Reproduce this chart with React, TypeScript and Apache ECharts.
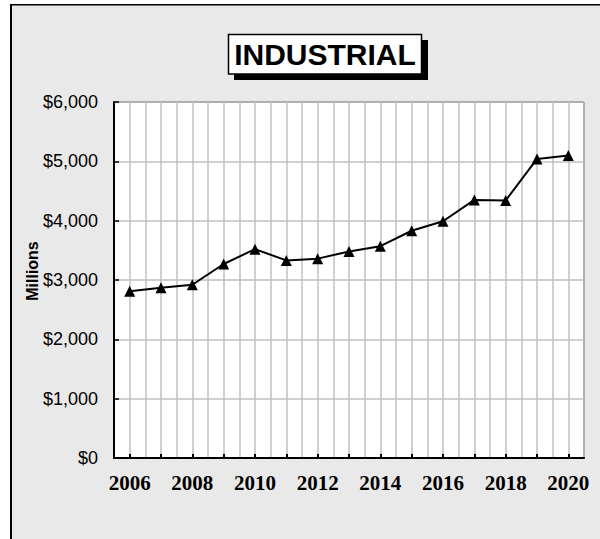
import React, { useEffect, useRef } from "react";
import * as echarts from "echarts";

const years = [2006, 2007, 2008, 2009, 2010, 2011, 2012, 2013, 2014, 2015, 2016, 2017, 2018, 2019, 2020];
const values = [2810, 2870, 2920, 3270, 3520, 3330, 3360, 3480, 3570, 3830, 3990, 4350, 4340, 5040, 5100];
const yTicks = { min: 0, max: 6000, interval: 1000 };
const titleText = "INDUSTRIAL";
const yName = "Millions";

export default function App() {
  const ref = useRef<HTMLDivElement>(null);
  useEffect(() => {
    if (!ref.current) return;
    const chart = echarts.init(ref.current, null, { renderer: "svg" });
    const gridColor = "#c0c0c0";
    chart.setOption({
      animation: false,
      backgroundColor: "#ffffff",
      graphic: [
        { type: "rect", z: -10, shape: { x: 10, y: 4, width: 590, height: 535 }, style: { fill: "#e9e9e9" } },
        { type: "line", z: 10, shape: { x1: 10, y1: 4.7, x2: 600, y2: 4.7 }, style: { stroke: "#000", lineWidth: 1.6 } },
        { type: "line", z: 10, shape: { x1: 11, y1: 4, x2: 11, y2: 539 }, style: { stroke: "#000", lineWidth: 2 } },
        { type: "rect", z: 10, shape: { x: 234, y: 40, width: 194, height: 40 }, style: { fill: "#000" } },
        { type: "rect", z: 11, shape: { x: 228.5, y: 34.5, width: 193, height: 39.5 }, style: { fill: "#fff", stroke: "#000", lineWidth: 1.5 } },
        {
          type: "text", z: 12, x: 325, y: 54,
          style: { text: titleText, fill: "#000", font: "bold 30px 'Liberation Sans', Arial, sans-serif", align: "center", verticalAlign: "middle" },
        },
        {
          type: "text", z: 12, x: 32, y: 271, rotation: Math.PI / 2,
          style: { text: yName, fill: "#000", font: "bold 16px 'Liberation Sans', Arial, sans-serif", align: "center", verticalAlign: "middle" },
        },
      ],
      grid: {
        left: 114, right: 16, top: 102, bottom: 81,
        show: true, backgroundColor: "#fff", borderColor: "#000", borderWidth: 1,
      },
      xAxis: [
        {
          type: "value", min: years[0] - 0.5, max: years[years.length - 1] + 0.5, interval: 0.5,
          axisLine: { show: true, onZero: false, lineStyle: { color: "#000", width: 2 } },
          axisTick: { show: false },
          splitLine: { show: true, lineStyle: { color: gridColor, width: 1.5 } },
          axisLabel: {
            margin: 14,
            color: "#000",
            fontFamily: "'Liberation Serif', 'Times New Roman', serif",
            fontWeight: "bold",
            fontSize: 21,
            formatter: (v: number) => (Number.isInteger(v) && v % 2 === 0 ? String(v) : ""),
          },
        },
        {
          type: "category", data: years.map(String), boundaryGap: true, position: "bottom",
          axisLine: { show: false },
          axisTick: { show: true, inside: true, alignWithLabel: true, interval: 0, length: 4, lineStyle: { color: "#000", width: 2 } },
          axisLabel: { show: false },
          splitLine: { show: false },
        },
      ],
      yAxis: {
        type: "value", min: yTicks.min, max: yTicks.max, interval: yTicks.interval,
        axisLine: { show: true, lineStyle: { color: "#000", width: 2 } },
        axisTick: { show: true, inside: true, length: 5, lineStyle: { color: "#000", width: 1.5 } },
        splitLine: { show: true, lineStyle: { color: gridColor, width: 1.5 } },
        axisLabel: {
          margin: 16,
          color: "#000",
          fontFamily: "'Liberation Sans', Arial, sans-serif",
          fontSize: 18,
          formatter: (v: number) => "$" + v.toLocaleString("en-US"),
        },
      },
      series: [
        {
          type: "line",
          xAxisIndex: 0,
          data: years.map((y, i) => [y, values[i]]),
          symbol: "triangle",
          symbolSize: 11,
          lineStyle: { color: "#000", width: 2 },
          itemStyle: { color: "#000" },
          z: 5,
        },
      ],
    });
    return () => chart.dispose();
  }, []);
  return <div ref={ref} style={{ position: "fixed", left: 0, top: 0, width: 600, height: 539 }} />;
}
